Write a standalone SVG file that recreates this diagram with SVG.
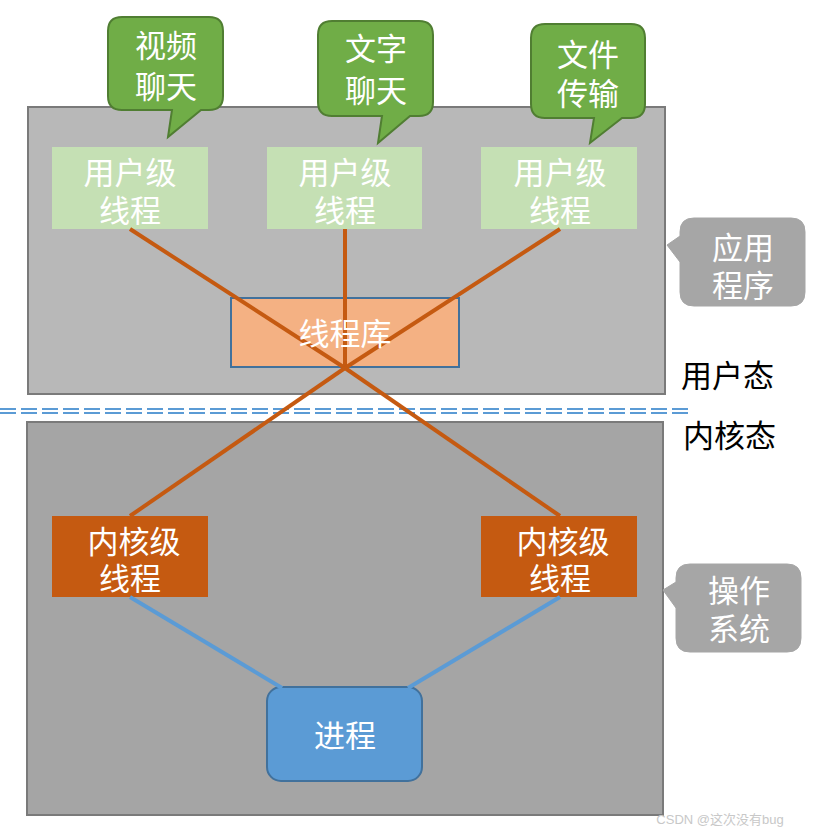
<svg xmlns="http://www.w3.org/2000/svg" width="817" height="834" viewBox="0 0 817 834">
<style>
text{font-family:"Liberation Sans","Noto Sans CJK SC",sans-serif;font-size:31px;text-anchor:middle}
.w{fill:#fff}
.k{fill:#000;text-anchor:start}
.ut{fill:#c5e0b4}
.kt{fill:#c55a11}
.gc{fill:#70ad47;stroke:#507e32;stroke-width:2}
.rc{fill:#a6a6a6;stroke:#a6a6a6}
.ol{stroke:#c55a11;stroke-width:4;fill:none}
.bl{stroke:#5b9bd5;stroke-width:4;fill:none}
</style>
<rect width="817" height="834" fill="#fff"/>
<g id="user-space">
<rect x="28" y="107" width="637" height="287" fill="#b8b8b8" stroke="#7a7a7a" stroke-width="2"/>
</g>
<g id="kernel-space">
<rect x="27" y="422" width="636" height="393" fill="#a5a5a5" stroke="#7a7a7a" stroke-width="2"/>
</g>
<g id="divider">
<line x1="0" y1="409" x2="690" y2="409" stroke="#5b9bd5" stroke-width="2" stroke-dasharray="16,5"/>
<line x1="0" y1="413" x2="690" y2="413" stroke="#5b9bd5" stroke-width="2" stroke-dasharray="16,5"/>
</g>
<g id="ut1"><rect class="ut" x="52" y="147" width="156" height="82"/></g>
<g id="ut2"><rect class="ut" x="267" y="147" width="155" height="82"/></g>
<g id="ut3"><rect class="ut" x="481" y="147" width="156" height="82"/></g>
<g id="lib"><rect x="231" y="298" width="228" height="69" fill="#f4b183" stroke="#41719c" stroke-width="2"/></g>
<g id="kt1"><rect class="kt" x="52" y="516" width="156" height="81"/></g>
<g id="kt2"><rect class="kt" x="481" y="516" width="156" height="81"/></g>
<g id="proc"><rect x="267" y="687" width="155" height="94" rx="14" fill="#5b9bd5" stroke="#41719c" stroke-width="2"/></g>
<g id="connectors">
<line class="ol" x1="130" y1="229" x2="345" y2="368"/>
<line class="ol" x1="345" y1="229" x2="345" y2="368"/>
<line class="ol" x1="560" y1="229" x2="345" y2="368"/>
<line class="ol" x1="345" y1="368" x2="130" y2="516"/>
<line class="ol" x1="345" y1="368" x2="560" y2="516"/>
<line class="bl" x1="130" y1="597" x2="282" y2="688"/>
<line class="bl" x1="560" y1="597" x2="408" y2="688"/>
</g>
<g id="labels">
<text class="w"><tspan x="130" y="184">用户级</tspan><tspan x="130" y="222">线程</tspan></text>
<text class="w"><tspan x="345" y="184">用户级</tspan><tspan x="345" y="222">线程</tspan></text>
<text class="w"><tspan x="560" y="184">用户级</tspan><tspan x="560" y="222">线程</tspan></text>
<text class="w" x="345" y="345">线程库</text>
<text class="w"><tspan x="134" y="553">内核级</tspan><tspan x="130" y="590">线程</tspan></text>
<text class="w"><tspan x="563" y="553">内核级</tspan><tspan x="560" y="590">线程</tspan></text>
<text class="w" x="345" y="747">进程</text>
</g>
<g id="callout-video">
<path class="gc" d="M122,17 H209 Q223,17 223,31 V96 Q223,110 209,110 H201 L168,137 L172,110 H122 Q108,110 108,96 V31 Q108,17 122,17 Z"/>
<text class="w"><tspan x="166" y="57">视频</tspan><tspan x="166" y="98">聊天</tspan></text>
</g>
<g id="callout-text">
<path class="gc" d="M332,21 H419 Q433,21 433,35 V102 Q433,116 419,116 H410 L378,143 L382,116 H332 Q318,116 318,102 V35 Q318,21 332,21 Z"/>
<text class="w"><tspan x="376" y="60">文字</tspan><tspan x="376" y="102">聊天</tspan></text>
</g>
<g id="callout-file">
<path class="gc" d="M545,24 H631 Q645,24 645,38 V104 Q645,118 631,118 H622 L590,143 L594,118 H545 Q531,118 531,104 V38 Q531,24 545,24 Z"/>
<text class="w"><tspan x="588" y="66">文件</tspan><tspan x="588" y="105">传输</tspan></text>
</g>
<g id="callout-app">
<path class="rc" d="M694,218 H791 Q805,218 805,232 V292 Q805,306 791,306 H694 Q680,306 680,292 V262 L667,245 L680,236 V232 Q680,218 694,218 Z"/>
<text class="w"><tspan x="743" y="259">应用</tspan><tspan x="743" y="297">程序</tspan></text>
</g>
<g id="callout-os">
<path class="rc" d="M690,564 H787 Q801,564 801,578 V638 Q801,652 787,652 H690 Q676,652 676,638 V608 L663,590 L676,582 V578 Q676,564 690,564 Z"/>
<text class="w"><tspan x="739" y="602">操作</tspan><tspan x="739" y="640">系统</tspan></text>
</g>
<g id="mode-labels">
<text class="k" x="681" y="387">用户态</text>
<text class="k" x="683" y="447">内核态</text>
</g>
<text x="720" y="824" style="font-size:13px;fill:#c8c8c8">CSDN @这次没有bug</text>
</svg>
